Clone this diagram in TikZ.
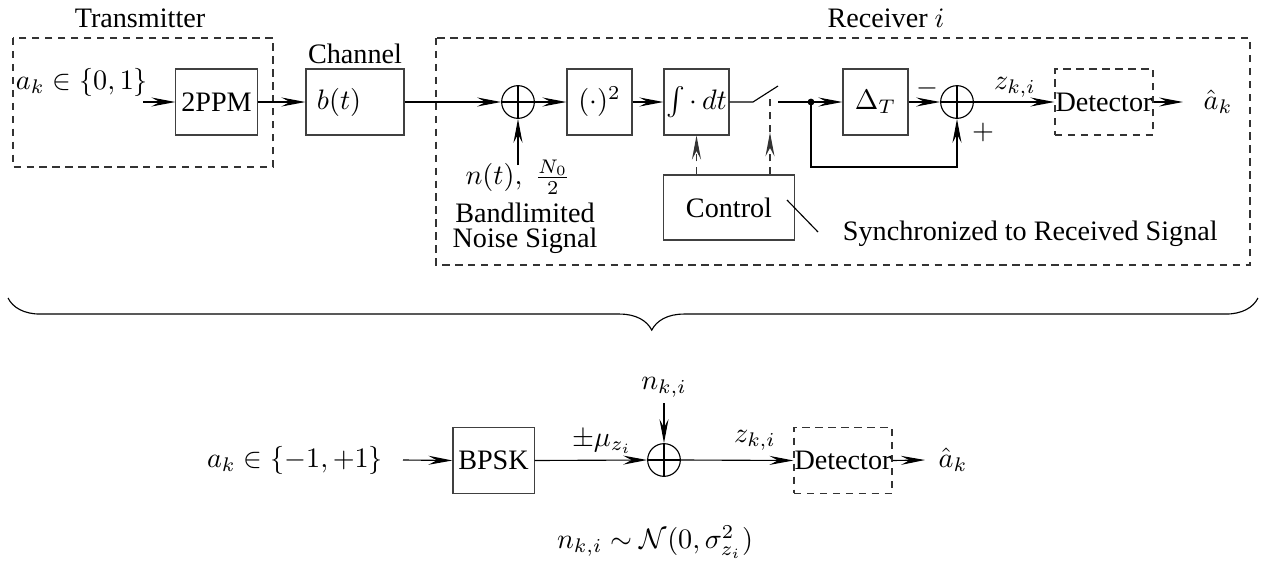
\documentclass[tikz,border=0pt]{standalone}
\usepackage{fontspec}
\setmainfont{Liberation Serif}
\usetikzlibrary{arrows.meta,decorations.pathreplacing}

\tikzset{
  block/.style={draw=black!75, minimum width=23.1pt, minimum height=23.4pt, inner sep=0pt},
  dashbox/.style={draw=black!80, dash pattern=on 2.6pt off 2pt},
  adder/.style={circle, draw, minimum size=11.6pt, inner sep=0pt,
    path picture={\draw (path picture bounding box.north) -- (path picture bounding box.south)
                        (path picture bounding box.west) -- (path picture bounding box.east);}},
  sig/.style={-{Stealth[length=8.5pt, width=3.2pt, inset=3pt]}},
}

\begin{document}
\begin{tikzpicture}[x=0.355pt, y=-0.355pt]
  \useasboundingbox (0,0) rectangle (1266,572);

  % transmitter and channel
  \draw[dashbox] (13,38) rectangle (273,167);
  \node (txlabel) at (140,18) {Transmitter};
  \node (src) at (82,82) {$a_k\in\{0,1\}$};
  \coordinate (srcend) at (143,102);
  \node[block, minimum width=28.8pt] (ppm) at (216.5,102) {2PPM};
  \node[block, minimum width=34.8pt, text width=27pt, align=left] (chan) at (355,102) {$b(t)$};
  \node (chanlabel) at (355,54) {Channel};
  \draw[sig] (srcend) -- (ppm.west);
  \draw[sig] (ppm.east) -- (chan.west);

  % receiver i
  \draw[dashbox] (436,38) rectangle (1250,265);
  \node (rxlabel) at (886,18) {Receiver $i$};
  \node[adder] (sumA) at (518,102) {};
  \node[inner sep=1pt] (noise) at (518,177) {$n(t),\;\frac{N_0}{2}$};
  \coordinate (noisein) at (518,165);
  \node[align=center, inner sep=0pt] (noisetxt) at (525,228) {Bandlimited\\[-3pt]Noise Signal};
  \node[block] (sq) at (599.5,102) {$(\cdot)^2$};
  \node[block] (integ) at (696.5,102) {$\int\cdot\,dt$};
  \node[block, minimum width=46.2pt, minimum height=23.1pt] (ctrl) at (729,207.5) {Control};
  \node[anchor=west] (synctxt) at (833,234) {Synchronized to Received Signal};
  \coordinate (ptrA) at (787,200);
  \coordinate (ptrB) at (818,232);
  \coordinate (swA) at (753,102);
  \coordinate (swB) at (778,86);
  \coordinate (swC) at (778,102);
  \coordinate (swctl) at (770,99);
  \coordinate (tap) at (811,102);
  \node[block] (delay) at (875.5,102) {$\Delta_T$};
  \node[adder] (sumB) at (957,102) {};
  \coordinate (fbR) at (957,167);
  \node (minus) at (927,88) {$-$};
  \node (plus) at (983,132) {$+$};
  \node (zlab) at (1015,87) {$z_{k,i}$};
  \node[block, dashbox, minimum width=34.8pt] (det) at (1104,102) {Detector};
  \coordinate (aend) at (1183,102);
  \node (ahat) at (1218,102) {$\hat a_k$};

  \draw[sig] (chan.east) -- (sumA.west);
  \draw[sig] (noisein) -- (sumA.south);
  \draw[sig] (sumA.east) -- (sq.west);
  \draw[sig] (sq.east) -- (integ.west);
  \draw (integ.east) -- (swA) -- (swB);
  \draw (swC) -- (tap);
  \fill (tap) circle (1.2pt);
  \draw[sig] (tap) -- (delay.west);
  \draw[sig] (delay.east) -- (sumB.west);
  \draw[sig] (tap) |- (fbR) -- (sumB.south);
  \draw[sig] (sumB.east) -- (det.west);
  \draw[sig] (det.east) -- (aend);
  \draw[sig, dashbox] (integ.south |- ctrl.north) -- (integ.south);
  \draw[sig, dashbox] (swctl |- ctrl.north) -- ++(0,-42);
  \draw[dashbox] (swctl |- ctrl.north) ++(0,-42) -- (swctl);
  \draw (ptrA) -- (ptrB);

  % equivalent model
  \coordinate (braceL) at (8,298);
  \coordinate (braceR) at (1258,298);
  \draw[decorate, decoration={brace, mirror, amplitude=11.4pt, aspect=0.515}] (braceL) -- (braceR);

  \node (src2) at (295,460) {$a_k\in\{-1,+1\}$};
  \coordinate (src2end) at (403,460);
  \node[block, minimum width=28.8pt] (bpsk) at (493.5,460.5) {BPSK};
  \node (mulab) at (602,442) {$\pm\mu_{z_i}$};
  \node[adder] (sumC) at (664,460) {};
  \node (nlab) at (664,387) {$n_{k,i}$};
  \coordinate (nin) at (664,403);
  \node (zlab2) at (755,440) {$z_{k,i}$};
  \node[block, dashbox, minimum width=34.8pt] (det2) at (843,460.5) {Detector};
  \coordinate (aend2) at (925,460);
  \node (ahat2) at (953,460) {$\hat a_k$};
  \node (noisedist) at (655,542) {$n_{k,i}\sim\mathcal{N}(0,\sigma^2_{z_i})$};

  \draw[sig] (src2end) -- (bpsk.west);
  \draw[sig] (bpsk.east) -- (sumC.west);
  \draw[sig] (nin) -- (sumC.north);
  \draw[sig] (sumC.east) -- (det2.west);
  \draw[sig] (det2.east) -- (aend2);
\end{tikzpicture}
\end{document}
